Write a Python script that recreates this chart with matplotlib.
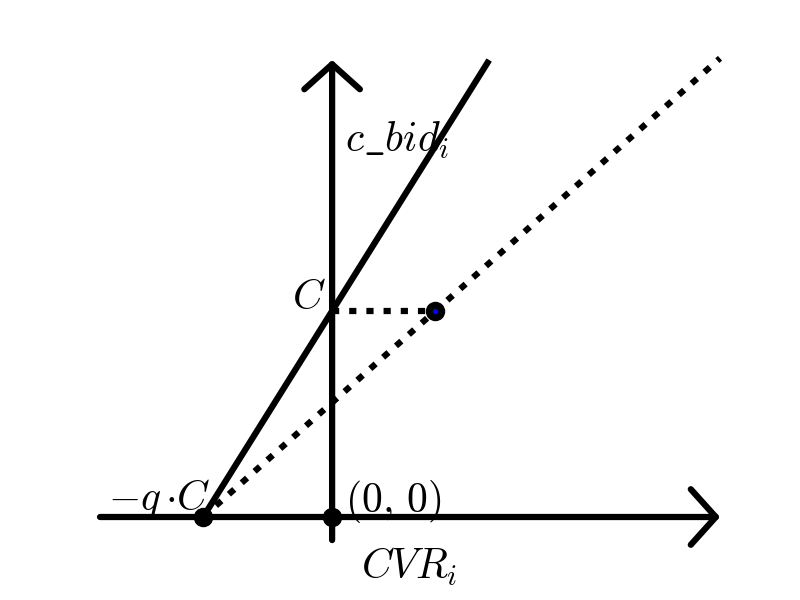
import matplotlib
matplotlib.use("Agg")
import matplotlib.pyplot as plt

plt.rcParams['mathtext.fontset'] = 'cm'

# values
C = 1.0
q = 0.5
cvr_point = 0.4
x_range = [-0.9, 1.504]
y_range = [-0.112, 2.218]

fig, ax = plt.subplots(figsize=(8, 6), dpi=100)
ax.set_xlim(-0.9, 1.504)
ax.set_ylim(-0.0825, 2.16)
ax.axis('off')

lw = 4.5
arrow = dict(arrowstyle='->, head_length=0.9, head_width=1.0', lw=lw,
             color='black', shrinkA=0, shrinkB=0, mutation_scale=20)
ax.annotate('', xy=(x_range[1], 0), xytext=(x_range[0], 0),
            arrowprops=arrow, annotation_clip=False)
ax.annotate('', xy=(0, y_range[1]), xytext=(0, y_range[0]),
            arrowprops=arrow, annotation_clip=False)

# solid line through (-qC, 0) and (0, C)
x0 = -q * C
x_top = x0 + y_range[1] / (C / (q * C))
ax.plot([x0, x_top], [0, y_range[1]], color='black', lw=lw,
        solid_capstyle='butt', clip_on=False)

# dotted line through (-qC, 0) and (cvr_point, C)
slope = C / (cvr_point - x0)
ax.plot([x0, x_range[1]], [0, slope * (x_range[1] - x0)], color='black',
        lw=lw, linestyle=(0, (1.15, 1.6)), clip_on=False)
ax.plot([0, cvr_point], [C, C], color='black', lw=lw,
        linestyle=(0, (1.15, 1.6)), clip_on=False)

ax.plot([x0, 0, cvr_point], [0, 0, C], 'o', color='black', ms=13,
        clip_on=False, zorder=5)
ax.plot([cvr_point], [C], 'o', color='blue', ms=3, zorder=6)

fs = 30
ax.text(0.05, 1.83, r'$c\_bid_i$', fontsize=fs, ha='left', va='center')
ax.text(-0.023, 1.07, r'$C$', fontsize=fs, ha='right', va='center')
ax.text(-0.473, 0.034, r'$-q\,{\cdot}C$', fontsize=fs, ha='right', va='baseline')
ax.text(0.05, 0.024, r'$(0,\,0)$', fontsize=fs, ha='left', va='baseline')
ax.text(0.30, -0.243, r'$CVR_i$', fontsize=fs, ha='center', va='center')

fig.savefig('out.png', dpi=100)
